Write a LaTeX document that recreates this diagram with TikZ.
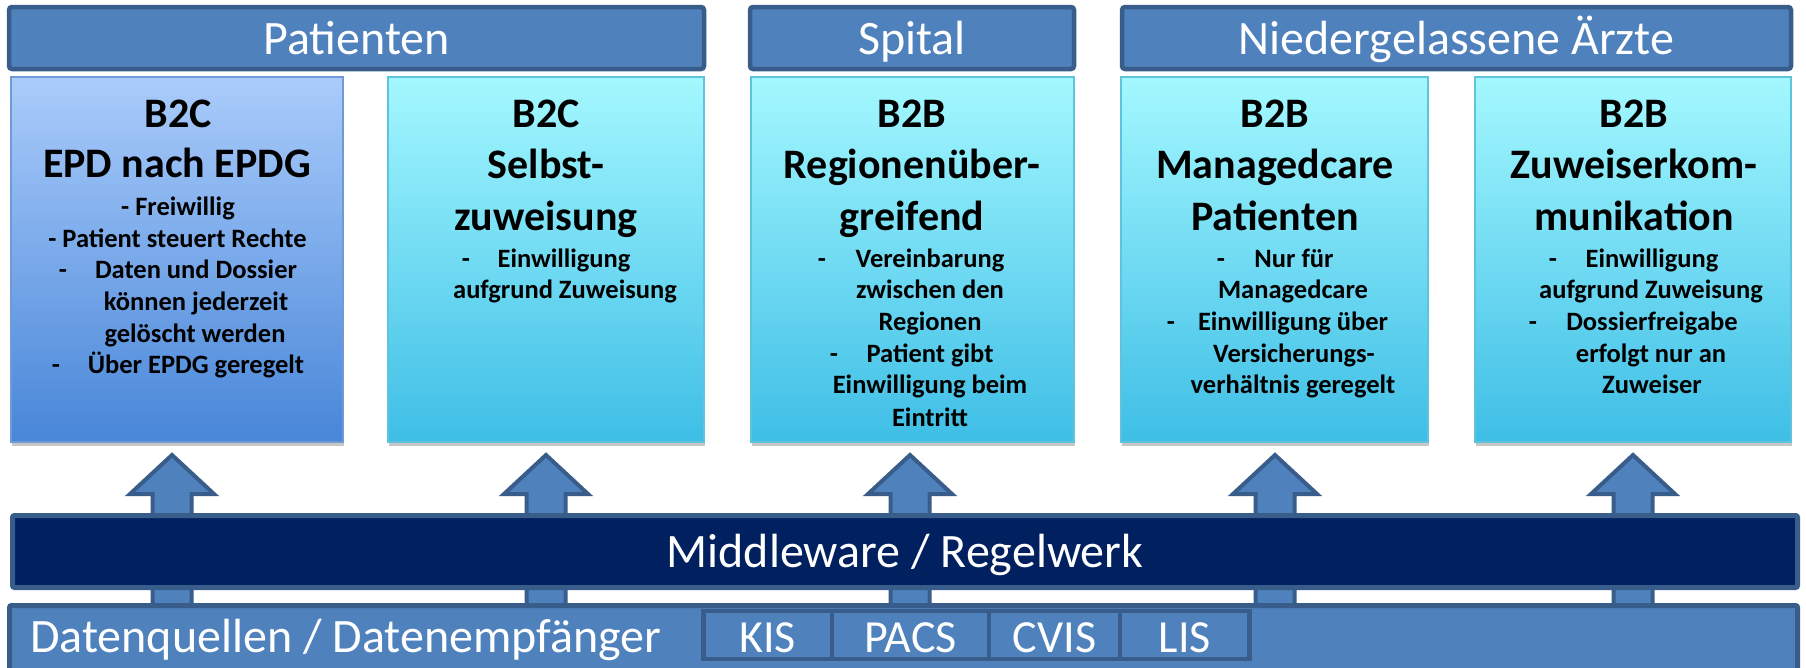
\documentclass[tikz,border=0pt]{standalone}
\usepackage{fontspec}
\setmainfont{Carlito}
\usetikzlibrary{shadows}
\definecolor{hdrfill}{HTML}{4F81BD}
\definecolor{hdrline}{HTML}{385D8A}
\definecolor{navy}{HTML}{002060}
\definecolor{bonetop}{HTML}{AACCFB}
\definecolor{bonebot}{HTML}{4886D8}
\definecolor{boneedge}{HTML}{6F9AD6}
\definecolor{cytop}{HTML}{A4F8FF}
\definecolor{cybot}{HTML}{3EBEE6}
\definecolor{cyedge}{HTML}{5FC3DD}
\begin{document}
\begin{tikzpicture}[x=1pt,y=-1pt,
  hdr/.style={draw=hdrline, fill=hdrfill, line width=4.5pt, rounded corners=3pt,
    inner sep=0pt, outer sep=0pt, minimum height=62pt, text=white,
    text height=40pt, text depth=8pt, font=\fontsize{48}{58}\selectfont},
  cbox/.style={line width=1.5pt, inner sep=0pt, outer sep=0pt, minimum height=365pt,
    drop shadow={shadow xshift=1pt, shadow yshift=-4pt, fill=black, opacity=0.22}},
  boxone/.style={cbox, draw=boneedge, top color=bonetop, bottom color=bonebot},
  boxcy/.style={cbox, draw=cyedge, top color=cytop, bottom color=cybot},
  blockarrow/.style={draw=hdrline, fill=hdrfill, line width=4pt},
  mbar/.style={draw=hdrline, fill=navy, line width=5pt, rounded corners=2pt,
    inner sep=0pt, outer sep=0pt, text=white,
    text height=40pt, text depth=9pt, font=\fontsize{48}{58}\selectfont},
  dbar/.style={draw=hdrline, fill=hdrfill, line width=5pt, rounded corners=2pt,
    inner sep=0pt, outer sep=0pt},
  dtext/.style={anchor=base west, inner sep=0pt, text=white, font=\fontsize{48}{58}\selectfont},
  sysbox/.style={draw=hdrline, fill=hdrfill, line width=4.5pt, inner sep=0pt, outer sep=0pt,
    minimum height=48pt, text=white, text height=40pt, text depth=6pt,
    font=\fontsize{46}{55}\selectfont},
  ttl/.style={anchor=base, inner sep=0pt, font=\bfseries\fontsize{42}{51}\selectfont},
  itm/.style={anchor=base, inner sep=0pt, font=\bfseries\fontsize{26.5}{32}\selectfont}
]
\useasboundingbox (0,0) rectangle (1806,667);
\fill[white] (0,0) rectangle (1806,667);

% content boxes
\node[boxone, minimum width=332pt] (b1) at (177,259.5) {};
\node[boxcy, minimum width=316pt] (b2) at (546,259.5) {};
\node[boxcy, minimum width=323pt] (b3) at (912.5,259.5) {};
\node[boxcy, minimum width=307pt] (b4) at (1274.5,259.5) {};
\node[boxcy, minimum width=316pt] (b5) at (1633,259.5) {};

% headers
\node[hdr, minimum width=695pt] (h1) at (356.5,38) {Patienten};
\node[hdr, minimum width=324pt] (h2) at (912,38) {Spital};
\node[hdr, minimum width=669pt] (h3) at (1456.5,38) {Niedergelassene Ärzte};

% block arrows
\foreach \cx in {172,546,910,1275,1633}
  \draw[blockarrow] (\cx,455) -- (\cx+42,494) -- (\cx+19.5,494) -- (\cx+19.5,607)
     -- (\cx-19.5,607) -- (\cx-19.5,494) -- (\cx-42,494) -- cycle;

% middleware and data bar
\node[mbar, minimum width=1785pt, minimum height=72pt] (mw) at (905,551.5) {Middleware / Regelwerk};
\node[dbar, minimum width=1788pt, minimum height=74.5pt] (db) at (903.5,642.75) {};
\node[dtext] (dq) at (30,652) {Datenquellen / Datenempfänger};

% systems
\node[sysbox, minimum width=128.5pt] (kis) at (767.75,635) {KIS};
\node[sysbox, minimum width=157pt] (pacs) at (910.5,635) {PACS};
\node[sysbox, minimum width=131pt] (cvis) at (1054.5,635) {CVIS};
\node[sysbox, minimum width=129.5pt] (lis) at (1184.75,635) {LIS};

% box 1
\node[ttl] (t1a) at (178,127) {B2C};
\node[ttl] (t1b) at (177,177) {EPD nach EPDG};
\node[itm] (i1a) at (178,215) {- Freiwillig};
\node[itm] (i1b) at (177.5,247) {- Patient steuert Rechte};
\node[itm] (d1a) at (63,278) {-};
\node[itm] (i1c) at (196,278) {Daten und Dossier};
\node[itm] (i1d) at (196,310) {können jederzeit};
\node[itm] (i1e) at (195,342) {gelöscht werden};
\node[itm] (d1b) at (56,373) {-};
\node[itm] (i1f) at (196,373) {Über EPDG geregelt};

% box 2
\node[ttl] (t2a) at (546,127) {B2C};
\node[ttl] (t2b) at (546,178) {Selbst-};
\node[ttl] (t2c) at (546,230) {zuweisung};
\node[itm] (d2a) at (466,267) {-};
\node[itm] (i2a) at (564,267) {Einwilligung};
\node[itm] (i2b) at (565,298) {aufgrund Zuweisung};

% box 3
\node[ttl] (t3a) at (912,127) {B2B};
\node[ttl] (t3b) at (912,178) {Regionenüber-};
\node[ttl] (t3c) at (912,230) {greifend};
\node[itm] (d3a) at (822,267) {-};
\node[itm] (i3a) at (930,267) {Vereinbarung};
\node[itm] (i3b) at (930,298) {zwischen den};
\node[itm] (i3c) at (930,330) {Regionen};
\node[itm] (d3b) at (834,362) {-};
\node[itm] (i3d) at (930,362) {Patient gibt};
\node[itm] (i3e) at (930,393) {Einwilligung beim};
\node[itm] (i3f) at (930,426) {Eintritt};

% box 4
\node[ttl] (t4a) at (1275,127) {B2B};
\node[ttl] (t4b) at (1275,178) {Managedcare};
\node[ttl] (t4c) at (1275,230) {Patienten};
\node[itm] (d4a) at (1221,267) {-};
\node[itm] (i4a) at (1294,267) {Nur für};
\node[itm] (i4b) at (1293,298) {Managedcare};
\node[itm] (d4b) at (1171,330) {-};
\node[itm] (i4c) at (1293,330) {Einwilligung über};
\node[itm] (i4d) at (1294,362) {Versicherungs-};
\node[itm] (i4e) at (1293,393) {verhältnis geregelt};

% box 5
\node[ttl] (t5a) at (1634,127) {B2B};
\node[ttl] (t5b) at (1634,178) {Zuweiserkom-};
\node[ttl] (t5c) at (1634,230) {munikation};
\node[itm] (d5a) at (1553,267) {-};
\node[itm] (i5a) at (1652,267) {Einwilligung};
\node[itm] (i5b) at (1651,298) {aufgrund Zuweisung};
\node[itm] (d5b) at (1533,330) {-};
\node[itm] (i5c) at (1652,330) {Dossierfreigabe};
\node[itm] (i5d) at (1651,362) {erfolgt nur an};
\node[itm] (i5e) at (1652,393) {Zuweiser};
\end{tikzpicture}
\end{document}
